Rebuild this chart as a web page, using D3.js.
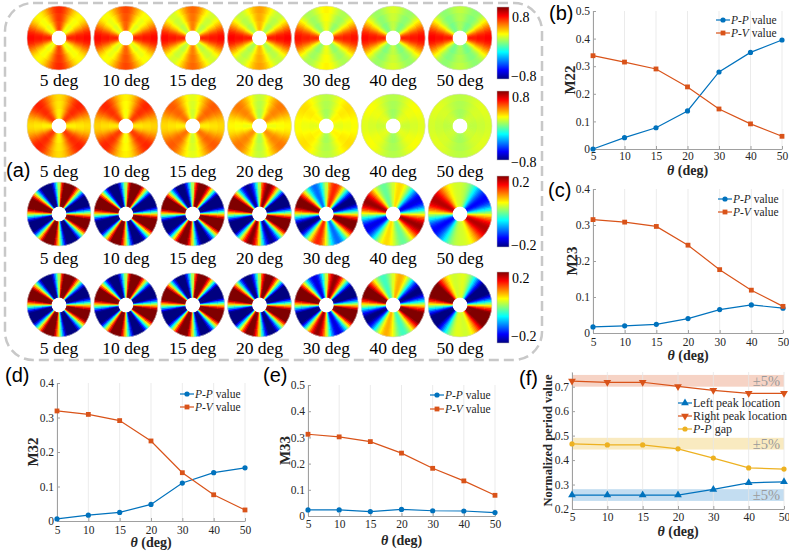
<!DOCTYPE html>
<html>
<head>
<meta charset="utf-8">
<script src="https://cdn.jsdelivr.net/npm/d3@7"></script>
<style>
  body { margin: 0; background: #fff; }
  text { font-family: "Liberation Serif", "Times New Roman", serif; }
</style>
</head>
<body>
<script>
var width = 789;
var height = 551;

// ---- data ----
var angles = [5, 10, 15, 20, 30, 40, 50];
var angleLabels = ["5 deg", "10 deg", "15 deg", "20 deg", "30 deg", "40 deg", "50 deg"];

// disk maps: value(phi) = mean + c2*cos(2phi) + c4*cos(4phi + phase) + s2*sin(2phi)
var row1Mean = [0.36, 0.34, 0.30, 0.27, 0.22, 0.20, 0.19];
var row1Cos2 = [0.025, 0.05, 0.075, 0.125, 0.18, 0.225, 0.25];
var row1Cos4 = [0.18, 0.175, 0.19, 0.18, 0.15, 0.14, 0.135];

var row2Mean = [0.38, 0.37, 0.31, 0.26, 0.17, 0.13, 0.11];
var row2Cos2 = [0, 0.025, 0.05, 0.05, 0.05, 0.035, 0.02];
var row2Cos4 = [-0.15, -0.15, -0.125, -0.125, -0.05, -0.035, -0.02];

var row3Mean = [0, 0, 0, 0, 0.01, 0.02, 0.02];
var row3Cos4 = [0.26, 0.26, 0.25, 0.23, 0.17, 0.10, 0.06];
var row3Sin2 = [0, -0.02, -0.03, -0.05, -0.07, -0.10, -0.13];

var row4Mean = [0, 0, 0, 0, 0.01, 0.02, 0.02];
var row4Cos4 = [0.26, 0.26, 0.26, 0.25, 0.22, 0.13, 0.10];
var row4Sin2 = [0, -0.02, -0.03, -0.04, -0.06, -0.12, -0.18];

var colorbarLimits = [0.8, 0.8, 0.2, 0.2];

var m22PP = [0.0, 0.041, 0.077, 0.138, 0.279, 0.350, 0.395];
var m22PV = [0.338, 0.315, 0.290, 0.225, 0.145, 0.091, 0.046];
var m23PP = [0.017, 0.020, 0.024, 0.040, 0.065, 0.078, 0.069];
var m23PV = [0.315, 0.308, 0.296, 0.244, 0.176, 0.119, 0.074];
var m32PP = [0.006, 0.017, 0.025, 0.048, 0.110, 0.140, 0.154];
var m32PV = [0.319, 0.309, 0.291, 0.232, 0.140, 0.076, 0.032];
var m33PP = [0.023, 0.023, 0.017, 0.025, 0.020, 0.019, 0.013];
var m33PV = [0.312, 0.302, 0.284, 0.240, 0.182, 0.134, 0.079];

var leftPeak = [0.257, 0.257, 0.257, 0.257, 0.280, 0.307, 0.311];
var rightPeak = [0.723, 0.718, 0.718, 0.701, 0.685, 0.673, 0.673];
var ppGap = [0.466, 0.462, 0.462, 0.446, 0.408, 0.368, 0.363];
var bandCenters = [0.724, 0.467, 0.257];
var bandHalf = 0.024;
var bandText = "±5%";

// ---- styles ----
var blue = "#0072BD", orange = "#D95319", yellow = "#EDB120";
var jet = d3.scaleLinear()
  .domain([0, 0.125, 0.375, 0.625, 0.875, 1])
  .range(["#000080", "#0000ff", "#00ffff", "#ffff00", "#ff0000", "#800000"])
  .interpolate(d3.interpolateRgb)
  .clamp(true);

var svg = d3.select("body").append("svg")
  .attr("width", width)
  .attr("height", height);

// ---- panel (a) ----
svg.append("rect")
  .attr("x", 5).attr("y", 3)
  .attr("width", 537).attr("height", 357)
  .attr("rx", 28)
  .attr("fill", "none")
  .attr("stroke", "#c8c8c8")
  .attr("stroke-width", 2.5)
  .attr("stroke-dasharray", "10,5");

var diskRows = [
  {mean: row1Mean, c2: row1Cos2, c4: row1Cos4, s2: null, phase: 0, rim: 0.06, cy: 38, labelY: 86},
  {mean: row2Mean, c2: row2Cos2, c4: row2Cos4, s2: null, phase: 0, rim: 0.05, cy: 126, labelY: 177},
  {mean: row3Mean, c2: null, c4: row3Cos4, s2: row3Sin2, phase: 80, rim: 0, cy: 214, labelY: 264},
  {mean: row4Mean, c2: null, c4: row4Cos4, s2: row4Sin2, phase: 80, rim: 0, cy: 305, labelY: 354}
];

var diskX = d3.scaleLinear().domain([0, 6]).range([59, 460]);
var outerR = 32, innerR = 7.5, nWedges = 120, nRings = 3;
var arc = d3.arc();

diskRows.forEach(function(row, ri) {
  var lim = colorbarLimits[ri];
  var cscale = d3.scaleLinear().domain([-lim, lim]).range([0, 1]);
  angles.forEach(function(a, k) {
    var g = svg.append("g")
      .attr("transform", "translate(" + diskX(k) + "," + row.cy + ")");
    var cells = [];
    var dr = (outerR - innerR) / nRings;
    var step = 2 * Math.PI / nWedges;
    // outer rings first, each inner ring overlaps the next one outward
    for (var j = nRings - 1; j >= 0; j--) {
      for (var i = 0; i < nWedges; i++) {
        var a0 = i * step;
        var phi = Math.PI / 2 - (a0 + step / 2);
        var rf = (j + 0.5) / nRings;
        var v = row.mean[k] +
          (row.c2 ? row.c2[k] * Math.cos(2 * phi) : 0) +
          row.c4[k] * Math.cos(4 * phi + row.phase * Math.PI / 180) +
          (row.s2 ? row.s2[k] * Math.sin(2 * phi) : 0) +
          row.rim * (rf - 0.4);
        cells.push({
          innerRadius: innerR + j * dr,
          outerRadius: innerR + (j + 1) * dr + (j < nRings - 1 ? 1 : 0),
          startAngle: a0, endAngle: a0 + 2 * step, v: v
        });
      }
    }
    g.selectAll("path")
      .data(cells)
      .enter().append("path")
      .attr("d", arc)
      .attr("fill", function(d) { return jet(cscale(d.v)); });
    g.append("circle").attr("r", outerR).attr("fill", "none")
      .attr("stroke", "#d8d8d8").attr("stroke-width", 0.6);

    svg.append("text")
      .attr("x", diskX(k))
      .attr("y", row.labelY)
      .attr("text-anchor", "middle")
      .style("font-size", "17.5px")
      .text(angleLabels[k]);
  });
});

// colorbars
var defs = svg.append("defs");
var grad = defs.append("linearGradient")
  .attr("id", "jetgrad")
  .attr("x1", 0).attr("y1", 1).attr("x2", 0).attr("y2", 0);
d3.range(0, 1.0001, 0.0625).forEach(function(t) {
  grad.append("stop").attr("offset", t).attr("stop-color", jet(t));
});

var bars = [
  {top: 7, bottom: 79, hiY: 22, loY: 81},
  {top: 91, bottom: 160, hiY: 102, loY: 167},
  {top: 176, bottom: 247, hiY: 187, loY: 250},
  {top: 272, bottom: 343, hiY: 283, loY: 341}
];
bars.forEach(function(b, i) {
  svg.append("rect")
    .attr("x", 497).attr("y", b.top)
    .attr("width", 12).attr("height", b.bottom - b.top)
    .attr("fill", "url(#jetgrad)")
    .attr("stroke", "#bbb").attr("stroke-width", 0.5);
  var fmt = d3.format(".1f");
  svg.append("text").attr("x", 512).attr("y", b.hiY)
    .style("font-size", "14px").text(fmt(colorbarLimits[i]));
  svg.append("text").attr("x", 511).attr("y", b.loY)
    .style("font-size", "14px").text("\u2212" + fmt(colorbarLimits[i]));
});

svg.append("text")
  .attr("x", 6).attr("y", 177)
  .style("font-family", "Liberation Sans, Arial, sans-serif")
  .style("font-size", "20px")
  .text("(a)");

// ---- line panels ----
function tickFmt(d) { return d === 0 ? "0" : d3.format(".1f")(d); }

function drawPanel(p) {
  var x = d3.scalePoint().domain(angles).range([p.left, p.right]);
  var y = d3.scaleLinear().domain(p.yDomain).range([p.bottom, p.top]);
  var g = svg.append("g");

  (p.bands || []).forEach(function(b) {
    g.append("rect")
      .attr("x", p.left).attr("width", p.right - p.left)
      .attr("y", y(b.hi)).attr("height", y(b.lo) - y(b.hi))
      .attr("fill", b.fill).attr("opacity", 0.85);
    g.append("text")
      .attr("x", p.right - 4).attr("y", y((b.hi + b.lo) / 2))
      .attr("dy", "0.35em")
      .attr("text-anchor", "end")
      .attr("fill", "#9a9a9a")
      .style("font-size", "14.5px")
      .text(bandText);
  });

  g.selectAll(".grid")
    .data(angles)
    .enter().append("line")
    .attr("x1", function(d) { return x(d); })
    .attr("x2", function(d) { return x(d); })
    .attr("y1", p.top).attr("y2", p.bottom)
    .attr("stroke", "#e6e6e6").attr("stroke-width", 0.8);

  var yAxis = g.append("g")
    .attr("transform", "translate(" + p.left + ",0)")
    .call(d3.axisLeft(y).tickValues(p.yTicks).tickFormat(tickFmt)
      .tickSize(-3).tickSizeOuter(0).tickPadding(3));
  var xAxis = g.append("g")
    .attr("transform", "translate(0," + p.bottom + ")")
    .call(d3.axisBottom(x).tickSize(-3).tickSizeOuter(0).tickPadding(p.xPad));
  [yAxis, xAxis].forEach(function(ax) {
    ax.select(".domain").attr("stroke", "#a0a0a0");
    ax.selectAll(".tick line").attr("stroke", "#a0a0a0");
    ax.selectAll(".tick text")
      .attr("fill", "#262626")
      .style("font-family", "Liberation Serif, serif")
      .style("font-size", "11.5px");
  });

  p.series.forEach(function(s) {
    var line = d3.line()
      .x(function(d, i) { return x(angles[i]); })
      .y(function(d) { return y(d); });
    g.append("path")
      .datum(s.values)
      .attr("d", line)
      .attr("fill", "none")
      .attr("stroke", s.color)
      .attr("stroke-width", 1.2);
    drawMarkers(g, s.values.map(function(d, i) { return [x(angles[i]), y(d)]; }), s);
  });

  // legend
  p.series.forEach(function(s, i) {
    var ly = p.legY + i * p.legDy;
    g.append("line")
      .attr("x1", p.legX).attr("x2", p.legX + 14)
      .attr("y1", ly).attr("y2", ly)
      .attr("stroke", s.color).attr("stroke-width", 1.2);
    drawMarkers(g, [[p.legX + 7, ly]], s);
    var t = g.append("text")
      .attr("x", p.legX + 15).attr("y", ly).attr("dy", "0.35em")
      .attr("fill", "#262626")
      .style("font-size", p.legFont);
    if (s.italic) t.append("tspan").style("font-style", "italic").text(s.italic);
    t.append("tspan").text(s.rest);
  });

  // labels
  g.append("text")
    .attr("transform", "translate(" + p.yLabelX + "," + (p.top + p.bottom) / 2 + ") rotate(-90)")
    .attr("text-anchor", "middle")
    .attr("dy", "0.35em")
    .attr("fill", "#262626")
    .style("font-weight", "bold")
    .style("font-size", p.yLabelFont)
    .text(p.yLabel);
  var xl = g.append("text")
    .attr("x", (p.left + p.right) / 2).attr("y", p.xLabelY)
    .attr("text-anchor", "middle")
    .attr("fill", "#262626")
    .style("font-weight", "bold")
    .style("font-size", "14px");
  xl.append("tspan").style("font-style", "italic").text("\u03B8");
  xl.append("tspan").text(" (deg)");

  svg.append("text")
    .attr("x", p.tagX).attr("y", p.tagY)
    .style("font-family", "Liberation Sans, Arial, sans-serif")
    .style("font-size", "20px")
    .text(p.tag);
}

function drawMarkers(g, pts, s) {
  pts.forEach(function(pt) {
    if (s.marker === "circle") {
      g.append("circle").attr("cx", pt[0]).attr("cy", pt[1]).attr("r", 2.6)
        .attr("fill", s.color);
    } else if (s.marker === "square") {
      g.append("rect").attr("x", pt[0] - 2.4).attr("y", pt[1] - 2.4)
        .attr("width", 4.8).attr("height", 4.8).attr("fill", s.color);
    } else {
      g.append("path")
        .attr("d", d3.symbol().type(d3.symbolTriangle).size(26))
        .attr("transform", "translate(" + pt[0] + "," + pt[1] + ")" +
          (s.marker === "down" ? " rotate(180)" : ""))
        .attr("fill", s.color);
    }
  });
}

function ppPv(pp, pv) {
  return [
    {values: pp, color: blue, marker: "circle", italic: "P-P", rest: " value"},
    {values: pv, color: orange, marker: "square", italic: "P-V", rest: " value"}
  ];
}

var ticks05 = [0, 0.1, 0.2, 0.3, 0.4, 0.5];
var ticks04 = [0, 0.1, 0.2, 0.3, 0.4];

drawPanel({left: 593, right: 782, top: 11, bottom: 149, yDomain: [0, 0.5], yTicks: ticks05,
  series: ppPv(m22PP, m22PV), legX: 716, legY: 20, legDy: 13, legFont: "11.5px",
  yLabel: "M22", yLabelX: 570, yLabelFont: "15px", xLabelY: 175, xPad: 3,
  tag: "(b)", tagX: 549, tagY: 20});

drawPanel({left: 593, right: 783, top: 189, bottom: 333, yDomain: [0, 0.4], yTicks: ticks04,
  series: ppPv(m23PP, m23PV), legX: 718, legY: 199, legDy: 13, legFont: "11.5px",
  yLabel: "M23", yLabelX: 572, yLabelFont: "15px", xLabelY: 360, xPad: 5,
  tag: "(c)", tagX: 548, tagY: 197});

drawPanel({left: 57, right: 245, top: 383, bottom: 521, yDomain: [0, 0.4], yTicks: ticks04,
  series: ppPv(m32PP, m32PV), legX: 180, legY: 394, legDy: 13, legFont: "11.5px",
  yLabel: "M32", yLabelX: 33, yLabelFont: "15px", xLabelY: 547, xPad: 5,
  tag: "(d)", tagX: 5, tagY: 382});

drawPanel({left: 308, right: 495, top: 385, bottom: 516, yDomain: [0, 0.5], yTicks: ticks05,
  series: ppPv(m33PP, m33PV), legX: 430, legY: 395, legDy: 14, legFont: "11.5px",
  yLabel: "M33", yLabelX: 285, yLabelFont: "15px", xLabelY: 545, xPad: 4,
  tag: "(e)", tagX: 263, tagY: 382});

var bandFills = ["#f5cbbb", "#f8e6b5", "#b9d7ee"];
drawPanel({left: 572, right: 784, top: 372, bottom: 509, yDomain: [0.2, 0.76],
  yTicks: [0.2, 0.3, 0.4, 0.5, 0.6, 0.7],
  bands: bandCenters.map(function(c, i) {
    return {lo: c - bandHalf, hi: c + bandHalf, fill: bandFills[i]};
  }),
  series: [
    {values: leftPeak, color: blue, marker: "up", italic: null, rest: "Left peak location"},
    {values: rightPeak, color: orange, marker: "down", italic: null, rest: "Right peak location"},
    {values: ppGap, color: yellow, marker: "circle", italic: "P-P", rest: " gap"}
  ],
  legX: 678, legY: 403, legDy: 13, legFont: "12px",
  yLabel: "Normalized period value", yLabelX: 548, yLabelFont: "12.5px", xLabelY: 536, xPad: 4,
  tag: "(f)", tagX: 519, tagY: 385});
</script>
</body>
</html>
